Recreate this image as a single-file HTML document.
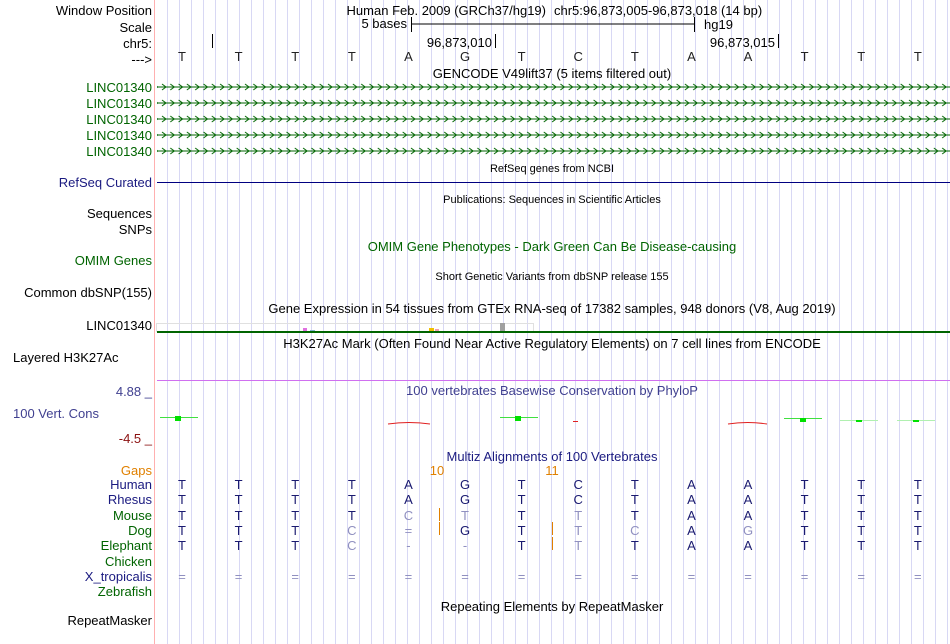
<!DOCTYPE html>
<html><head><meta charset="utf-8"><style>
body{margin:0;background:#fff;width:950px;height:644px;overflow:hidden}
svg{display:block;font-family:"Liberation Sans",sans-serif;font-size:13px}
</style></head><body>
<svg width="950" height="644" xmlns="http://www.w3.org/2000/svg">
<defs>
<pattern id="g" x="167" y="0" width="12" height="10" patternUnits="userSpaceOnUse"><rect x="0" y="0" width="1" height="10" fill="#d8d8f4"/></pattern>
<pattern id="ch" x="160" y="79" width="8.3" height="16" patternUnits="userSpaceOnUse"><path d="M2 5 L6 8 L2 11" fill="none" stroke="#006400" stroke-width="1"/><rect x="0" y="7.5" width="8.3" height="1" fill="#006400"/></pattern>
</defs>
<rect x="156" y="0" width="794" height="644" fill="url(#g)"/>
<rect x="154" y="0" width="1" height="644" fill="#ffb0b0"/>
<g text-anchor="end" fill="#000">
<text x="152" y="15">Window Position</text>
<text x="152" y="32">Scale</text>
<text x="152" y="48">chr5:</text>
<text x="152" y="64">---&gt;</text>
<g fill="#006400"><text x="152" y="92">LINC01340</text><text x="152" y="108">LINC01340</text><text x="152" y="124">LINC01340</text><text x="152" y="140">LINC01340</text><text x="152" y="156">LINC01340</text></g>
<text x="152" y="187" fill="#1a1a80">RefSeq Curated</text>
<text x="152" y="218">Sequences</text>
<text x="152" y="234">SNPs</text>
<text x="152" y="265" fill="#006400">OMIM Genes</text>
<text x="152" y="297">Common dbSNP(155)</text>
<text x="152" y="330">LINC01340</text>
<text x="13" y="362" text-anchor="start">Layered H3K27Ac</text>
<text x="152" y="396" fill="#404090">4.88 _</text>
<text x="13" y="418" text-anchor="start" fill="#404090">100 Vert. Cons</text>
<text x="152" y="443" fill="#8b1010">-4.5 _</text>
<text x="152" y="475" fill="#e08000">Gaps</text>
<g fill="#1a1a80"><text x="152" y="489">Human</text><text x="152" y="504">Rhesus</text></g>
<g fill="#006400"><text x="152" y="520">Mouse</text><text x="152" y="535">Dog</text><text x="152" y="550">Elephant</text><text x="152" y="566">Chicken</text></g>
<text x="152" y="581" fill="#1a1a80">X_tropicalis</text>
<text x="152" y="596" fill="#006400">Zebrafish</text>
<text x="152" y="625">RepeatMasker</text>
</g>
<text x="546" y="15" text-anchor="end">Human Feb. 2009 (GRCh37/hg19)</text>
<text x="554" y="15">chr5:96,873,005-96,873,018 (14 bp)</text>
<text x="407" y="28" text-anchor="end">5 bases</text>
<text x="704" y="29">hg19</text>
<g text-anchor="middle">
<text x="552" y="78">GENCODE V49lift37 (5 items filtered out)</text>
<text x="552" y="172" font-size="11">RefSeq genes from NCBI</text>
<text x="552" y="203" font-size="11">Publications: Sequences in Scientific Articles</text>
<text x="552" y="251" fill="#006400">OMIM Gene Phenotypes - Dark Green Can Be Disease-causing</text>
<text x="552" y="280" font-size="11">Short Genetic Variants from dbSNP release 155</text>
<text x="552" y="313">Gene Expression in 54 tissues from GTEx RNA-seq of 17382 samples, 948 donors (V8, Aug 2019)</text>
<text x="552" y="348">H3K27Ac Mark (Often Found Near Active Regulatory Elements) on 7 cell lines from ENCODE</text>
<text x="552" y="395" fill="#404090">100 vertebrates Basewise Conservation by PhyloP</text>
<text x="552" y="461" fill="#1a1a80">Multiz Alignments of 100 Vertebrates</text>
<text x="437" y="475" fill="#e08000">10</text>
<text x="552" y="475" fill="#e08000">11</text>
<text x="552" y="611">Repeating Elements by RepeatMasker</text>
</g>
<text x="492" y="47" text-anchor="end">96,873,010</text>
<text x="775" y="47" text-anchor="end">96,873,015</text>
<g stroke="#000" stroke-width="1">
<line x1="411.5" y1="24" x2="694.5" y2="24"/><line x1="411.5" y1="17" x2="411.5" y2="32"/><line x1="694.5" y1="17" x2="694.5" y2="32"/>
<line x1="212.5" y1="34" x2="212.5" y2="48"/><line x1="495.5" y1="34" x2="495.5" y2="48"/><line x1="778.5" y1="34" x2="778.5" y2="48"/>
</g>
<text y="61" text-anchor="middle" fill="#222" x="182 238.6 295.2 351.8 408.4 465 521.6 578.2 634.8 691.4 748 804.6 861.2 917.8">TTTTAGTCTAATTT</text>
<rect x="157" y="79" width="793" height="80" fill="url(#ch)"/>
<rect x="157" y="182" width="793" height="1" fill="#000080"/>
<rect x="156.5" y="323.5" width="377" height="8" fill="none" stroke="#e0e0e0"/>
<rect x="303" y="328" width="4" height="4" fill="#e070e0"/><rect x="310" y="330" width="5" height="2" fill="#80b0d0"/>
<rect x="429" y="328" width="5" height="4" fill="#f0c000"/><rect x="435" y="329" width="4" height="3" fill="#f0a0b0"/>
<rect x="500" y="323" width="5" height="9" fill="#a0a0a0"/>
<rect x="157" y="331" width="793" height="2" fill="#006400"/>
<rect x="157" y="380" width="793" height="1" fill="#d070f0"/>
<g>
<rect x="160" y="417" width="38" height="1" fill="#40e040"/><rect x="175" y="416" width="6" height="5" fill="#00e000"/>
<path d="M388 424 Q409 421 430 424" stroke="#e02020" fill="none"/>
<rect x="500" y="417" width="38" height="1" fill="#40e040"/><rect x="515" y="416" width="6" height="5" fill="#00e000"/>
<rect x="573" y="421" width="5" height="1" fill="#e02020"/>
<path d="M728 424 Q748 421 767 424" stroke="#e02020" fill="none"/>
<rect x="784" y="418" width="38" height="1" fill="#40e040"/><rect x="800" y="418" width="6" height="4" fill="#00e000"/>
<rect x="840" y="420" width="38" height="1" fill="#b0f0b0"/><rect x="856" y="420" width="6" height="2" fill="#00e000"/>
<rect x="897" y="420" width="38" height="1" fill="#b0f0b0"/><rect x="913" y="420" width="6" height="2" fill="#00e000"/>
</g>
<g text-anchor="middle" fill="#1a1a70">
<text y="489" x="182 238.6 295.2 351.8 408.4 465 521.6 578.2 634.8 691.4 748 804.6 861.2 917.8">TTTTAGTCTAATTT</text>
<text y="504" x="182 238.6 295.2 351.8 408.4 465 521.6 578.2 634.8 691.4 748 804.6 861.2 917.8">TTTTAGTCTAATTT</text>
<text y="520" x="182 238.6 295.2 351.8 521.6 634.8 691.4 748 804.6 861.2 917.8">TTTTTTAATTT</text>
<text y="535" x="182 238.6 295.2 465 521.6 691.4 804.6 861.2 917.8">TTTGTATTT</text>
<text y="550" x="182 238.6 295.2 521.6 634.8 691.4 748 804.6 861.2 917.8">TTTTTAATTT</text>
</g>
<g text-anchor="middle" fill="#9090c0">
<text y="520" x="408.4 465 578.2">CTT</text>
<text y="535" x="351.8 408.4 578.2 634.8 748">C=TCG</text>
<text y="550" x="351.8 408.4 465 578.2">C--T</text>
<text y="581" x="182 238.6 295.2 351.8 408.4 465 521.6 578.2 634.8 691.4 748 804.6 861.2 917.8">==============</text>
</g>
<rect x="439" y="508" width="1" height="13" fill="#e08000"/>
<rect x="439" y="522" width="1" height="13" fill="#e08000"/>
<rect x="552" y="522" width="1" height="13" fill="#e08000"/>
<rect x="552" y="537" width="1" height="13" fill="#e08000"/>
</svg>
</body></html>
